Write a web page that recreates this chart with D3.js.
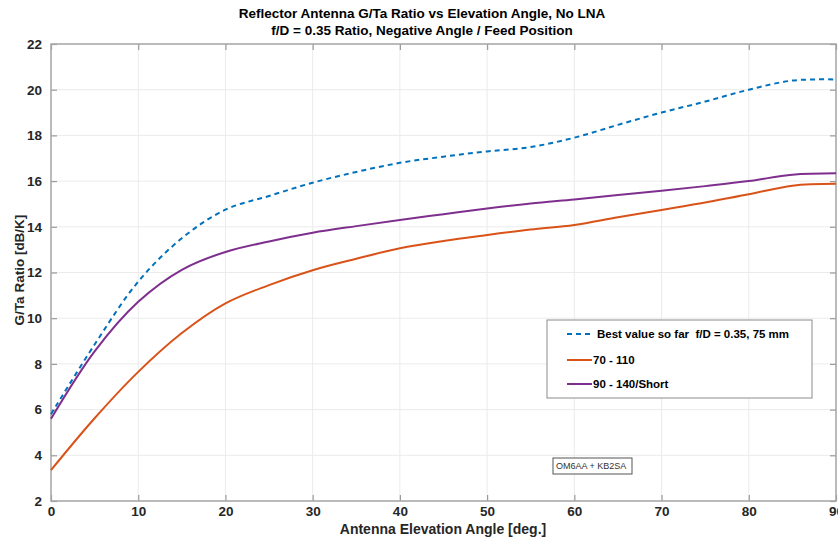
<!DOCTYPE html>
<html><head><meta charset="utf-8">
<script src="https://cdn.jsdelivr.net/npm/d3@7"></script>
<style>
body{margin:0;background:#fff;}
svg{display:block;font-family:"Liberation Sans",Arial,sans-serif;}
</style></head>
<body><svg id="c" width="838" height="539"></svg>
<script>
const angles = [0,5,10,15,20,25,30,35,40,45,50,55,60,65,70,75,80,85,90];
const bestValue = [5.8,8.85,11.6,13.5,14.75,15.35,15.93,16.4,16.8,17.07,17.3,17.49,17.9,18.46,19.0,19.48,20.0,20.4,20.45];
const series70_110 = [3.35,5.62,7.65,9.35,10.65,11.45,12.1,12.6,13.06,13.38,13.64,13.88,14.08,14.42,14.74,15.06,15.42,15.8,15.88];
const series90_140 = [5.6,8.55,10.72,12.12,12.9,13.36,13.74,14.03,14.3,14.55,14.8,15.02,15.2,15.39,15.58,15.78,16.0,16.28,16.34];
const xTicks = [0,10,20,30,40,50,60,70,80,90];
const yTicks = [2,4,6,8,10,12,14,16,18,20,22];
const seriesNames = ["Best value so far  f/D = 0.35, 75 mm","70 - 110","90 - 140/Short"];
const seriesColors = ["#0072BD","#D95319","#7E2F8E"];
const titleLines = ["Reflector Antenna G/Ta Ratio vs Elevation Angle, No LNA","f/D = 0.35 Ratio, Negative Angle / Feed Position"];

const svg = d3.select("#c");
const L=51, T=44, R=836, B=501;
const x = d3.scaleLinear().domain([0,90]).range([L,R]);
const y = d3.scaleLinear().domain([2,22]).range([B,T]);
const FF = "'Liberation Sans',Arial,sans-serif";

// grid
const g = svg.append("g");
g.selectAll(".gx").data(xTicks).enter().append("line")
  .attr("x1",d=>x(d)).attr("x2",d=>x(d)).attr("y1",T).attr("y2",B)
  .attr("stroke","#ebebeb").attr("stroke-width",1);
g.selectAll(".gy").data(yTicks).enter().append("line")
  .attr("x1",L).attr("x2",R).attr("y1",d=>y(d)).attr("y2",d=>y(d))
  .attr("stroke","#ebebeb").attr("stroke-width",1);

// axes (ticks inward)
const tk = 6;
const axB = svg.append("g").attr("transform",`translate(0,${B})`)
  .call(d3.axisBottom(x).tickValues(xTicks).tickSize(-tk).tickPadding(9).tickFormat(d3.format("d")));
const axL = svg.append("g").attr("transform",`translate(${L},0)`)
  .call(d3.axisLeft(y).tickValues(yTicks).tickSize(-tk).tickPadding(9).tickFormat(d3.format("d")));
const axT = svg.append("g").attr("transform",`translate(0,${T})`)
  .call(d3.axisTop(x).tickValues(xTicks).tickSize(-tk).tickFormat(""));
const axR = svg.append("g").attr("transform",`translate(${R},0)`)
  .call(d3.axisRight(y).tickValues(yTicks).tickSize(-tk).tickFormat(""));
[axB,axL,axT,axR].forEach(a=>{
  a.select(".domain").remove();
  a.selectAll("line").attr("stroke","#9a9a9a").attr("stroke-width",1.2);
  a.selectAll("text").attr("fill","#262626").style("font-size","13.5px").style("font-weight","bold")
   .style("font-family",FF);
});
axB.selectAll("text").attr("dy","0.45em");
svg.append("rect").attr("x",L).attr("y",T).attr("width",R-L).attr("height",B-T)
  .attr("fill","none").attr("stroke","#a6a6a6").attr("stroke-width",1.5);

// lines
const line = d3.line().x(d=>x(d[0])).y(d=>y(d[1])).curve(d3.curveCatmullRom.alpha(0.5));
const data = [bestValue, series70_110, series90_140];
data.forEach((vals,i)=>{
  svg.append("path").datum(angles.map((a,j)=>[a,vals[j]]))
    .attr("d",line).attr("fill","none").attr("stroke",seriesColors[i])
    .attr("stroke-width",2).attr("stroke-dasharray",i===0?"5,4":null);
});

// title
svg.append("g").selectAll("text").data(titleLines).enter().append("text")
  .attr("x",422).attr("y",(d,i)=>18+i*17).attr("text-anchor","middle")
  .style("font-size","13.5px").style("font-weight","bold").attr("fill","#000").text(d=>d);

// axis labels
svg.append("text").attr("x",443).attr("y",534).attr("text-anchor","middle")
  .style("font-size","14px").style("font-weight","bold").attr("fill","#262626")
  .text("Antenna Elevation Angle [deg.]");
svg.append("text").attr("transform","translate(24,270) rotate(-90)").attr("text-anchor","middle")
  .style("font-size","13.5px").style("font-weight","bold").attr("fill","#262626")
  .text("G/Ta Ratio [dB/K]");

// legend
const lg = svg.append("g");
lg.append("rect").attr("x",547).attr("y",320).attr("width",265).attr("height",78)
  .attr("fill","#fff").attr("stroke","#8c8c8c").attr("stroke-width",1);
const ly = [334,360,384];
seriesNames.forEach((n,i)=>{
  lg.append("line").attr("x1",567).attr("x2",592).attr("y1",ly[i]).attr("y2",ly[i])
    .attr("stroke",seriesColors[i]).attr("stroke-width",2).attr("stroke-dasharray",i===0?"5,4":null);
  lg.append("text").attr("x",i===0?597:593).attr("y",ly[i]).attr("dy","0.35em")
    .style("font-size","11.5px").style("font-weight","bold").style("white-space","pre")
    .attr("fill","#000").text(n);
});

// annotation
svg.append("rect").attr("x",553).attr("y",458).attr("width",79).attr("height",16)
  .attr("fill","#fff").attr("stroke","#555").attr("stroke-width",1);
svg.append("text").attr("x",556).attr("y",466).attr("dy","0.35em")
  .style("font-size","9px").attr("fill","#333").text("OM6AA + KB2SA");
</script></body></html>
